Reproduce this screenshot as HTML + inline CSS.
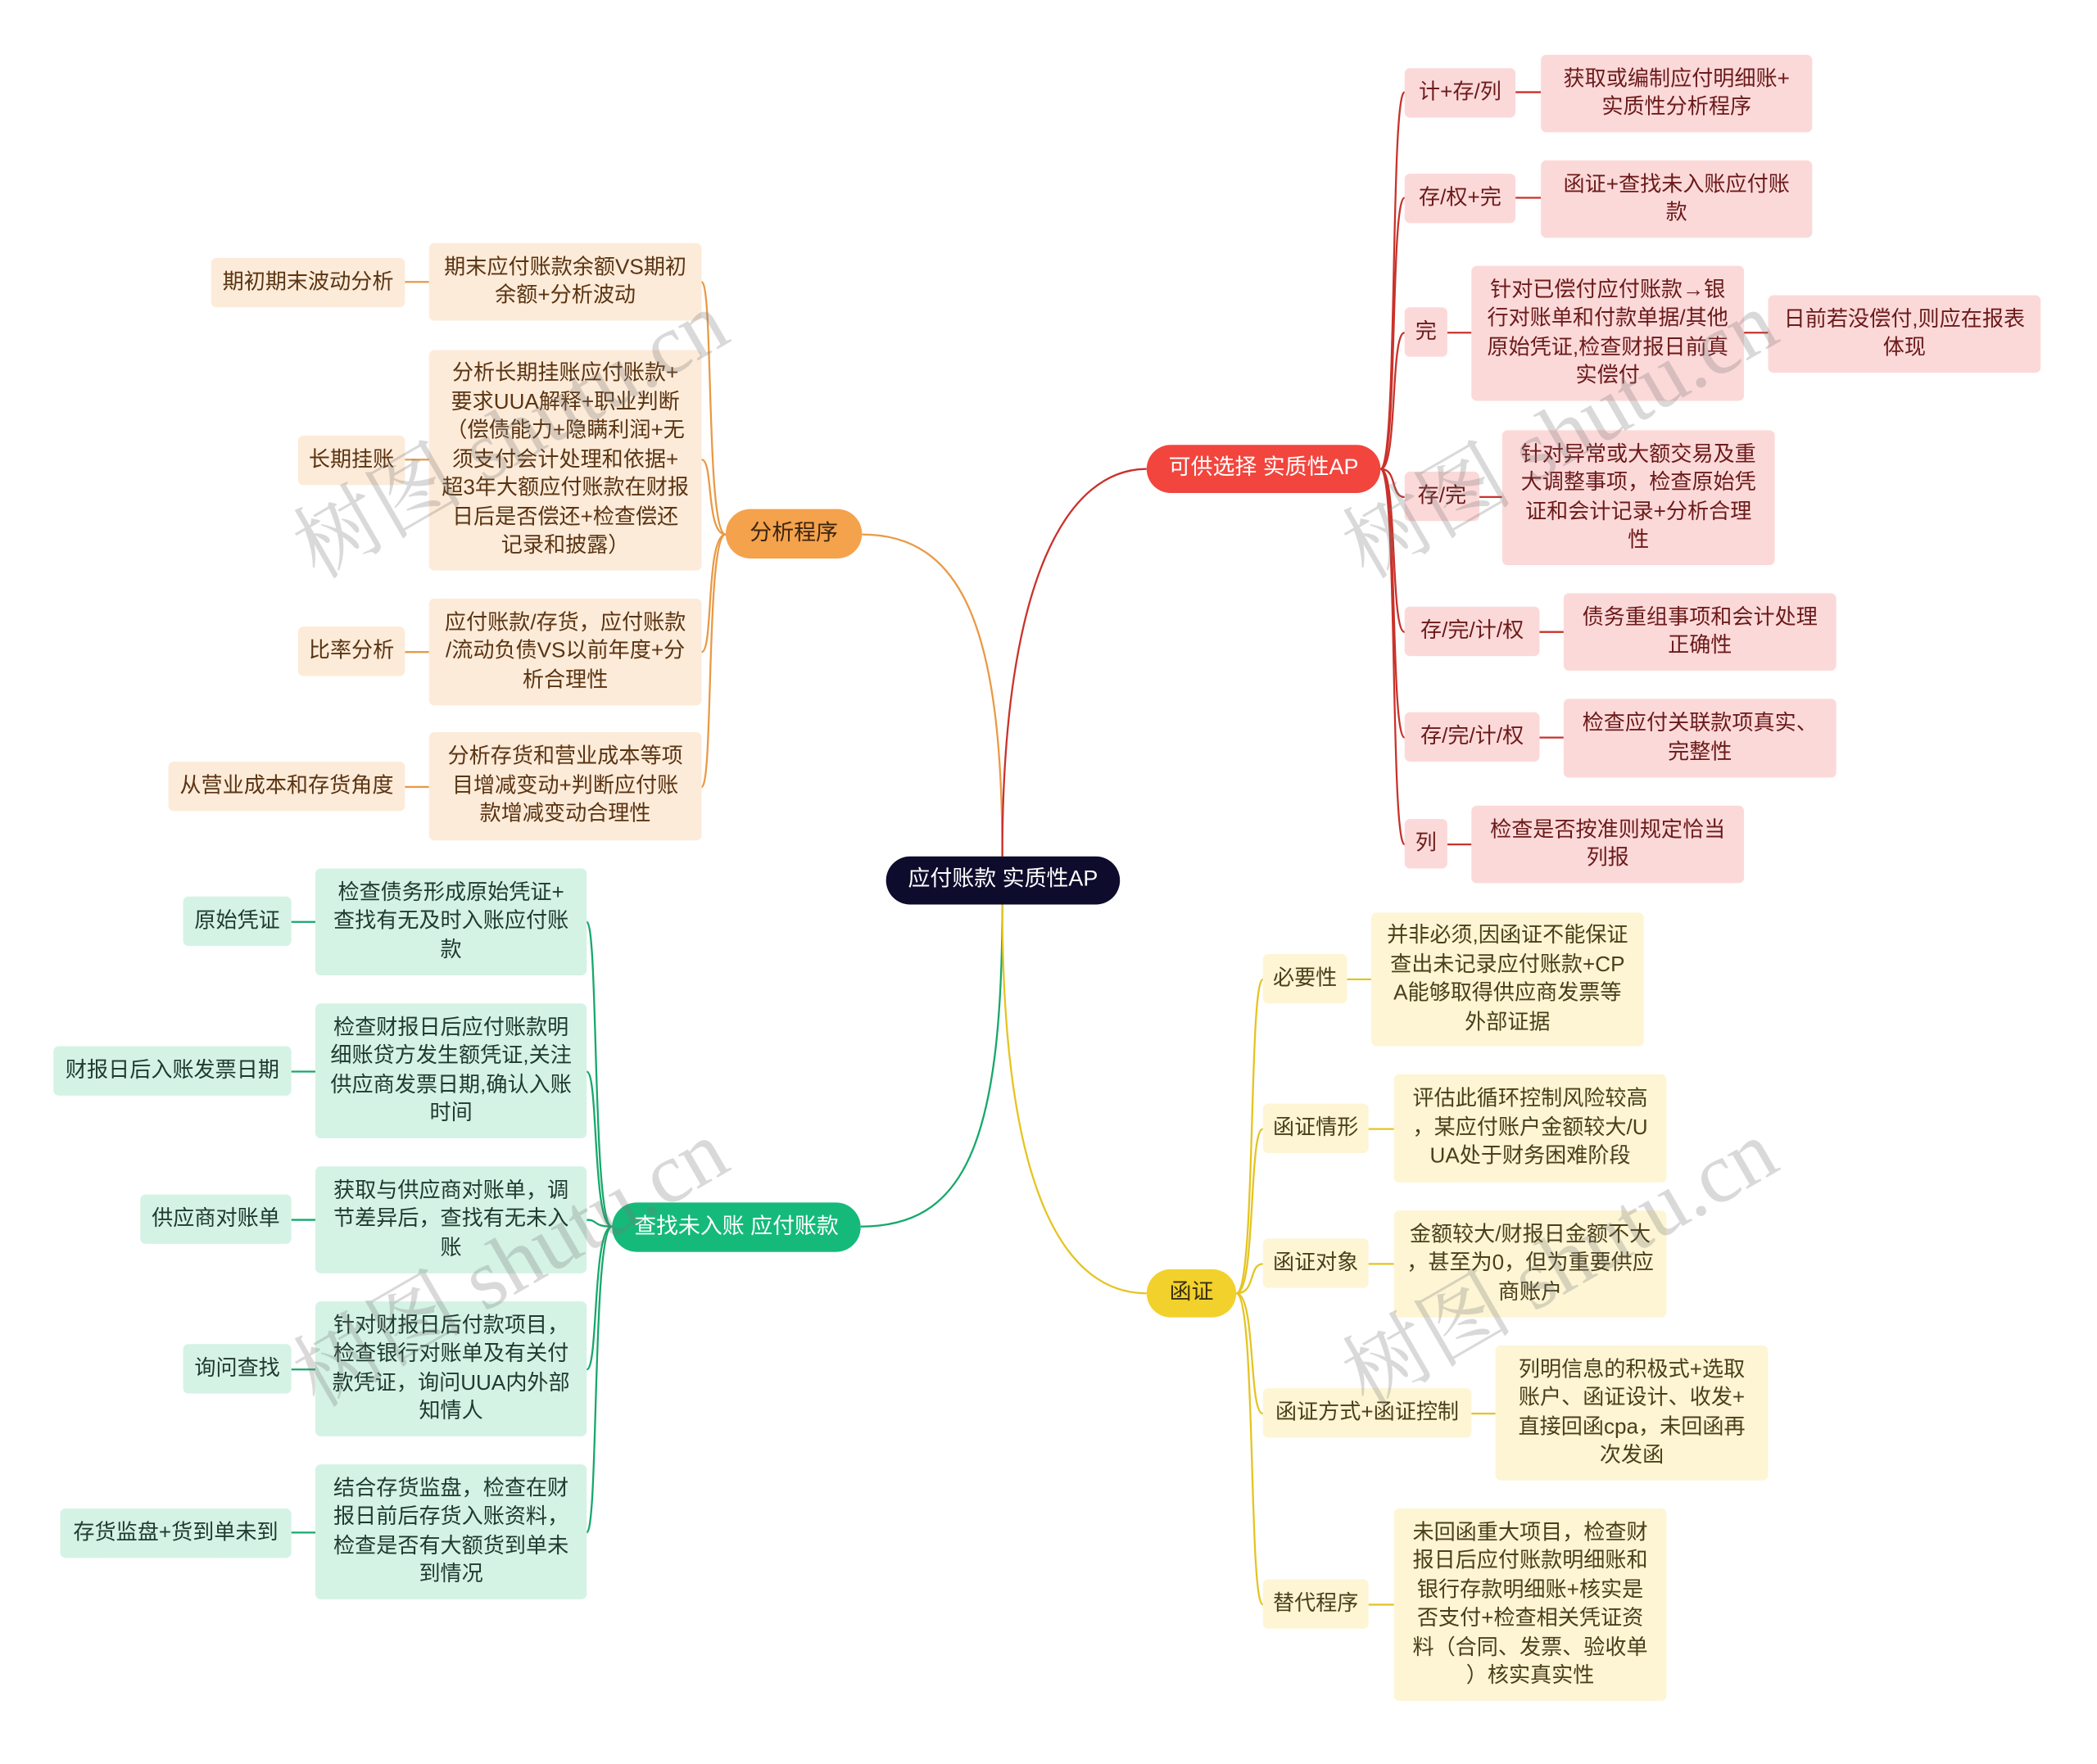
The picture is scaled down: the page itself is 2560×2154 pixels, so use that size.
<!DOCTYPE html>
<html><head><meta charset="utf-8"><style>
html,body{margin:0;padding:0;background:#fff;}
body{width:2560px;height:2147px;overflow:hidden;position:relative;}
#c{position:absolute;left:0;top:0;width:1570px;height:1320px;transform:scale(1.6315);transform-origin:0 0;font-family:"Liberation Sans","Noto Sans CJK SC",sans-serif;}
.n{position:absolute;display:flex;align-items:center;justify-content:center;text-align:center;box-sizing:border-box;font-size:16px;line-height:21.5px;color:#3a3a3a;border-radius:4px;padding:0;white-space:nowrap;}
.o{background:#fdebd9;color:#5a3412}
.r{background:#fcd9d9;color:#6b1a1a}
.y{background:#fdf5d4;color:#4a3f1a}
.g{background:#d4f3e5;color:#1f3a30}
.m{border-radius:19px;font-size:16.5px}
svg{position:absolute;left:0;top:0}
.w{position:absolute;font-family:"Liberation Serif","Noto Serif CJK SC",serif;font-size:64px;color:rgba(120,120,120,0.28);transform:rotate(-30deg);white-space:nowrap;transform-origin:center;}
</style></head><body><div id="c">
<svg width="1570" height="1320" fill="none" stroke-width="1.4">
<path d="M750 641 C750 470 720 400 645 400" stroke="#e99a45"/>
<path d="M750 641 C750 430 800 351 858 351" stroke="#c9322b"/>
<path d="M750 677 C750 860 720 918 644 918" stroke="#16a86b"/>
<path d="M750 677 C750 900 800 968 858 968" stroke="#e5c420"/>
<g stroke="#e99a45">
<path d="M543 400 C528 400 534 211 525 211"/><path d="M543 400 C528 400 534 344 525 344"/><path d="M543 400 C528 400 534 488 525 488"/><path d="M543 400 C528 400 534 589 525 589"/>
<path d="M303 211H321M303 344H321M303 488H321M303 589H321"/></g>
<g stroke="#c9322b">
<path d="M1033 351 C1046 351 1040 69 1051 69"/><path d="M1033 351 C1046 351 1040 148 1051 148"/><path d="M1033 351 C1046 351 1040 249 1051 249"/><path d="M1033 351 C1046 351 1040 372 1051 372"/><path d="M1033 351 C1046 351 1040 473 1051 473"/><path d="M1033 351 C1046 351 1040 552 1051 552"/><path d="M1033 351 C1046 351 1040 632 1051 632"/>
<path d="M1134 69H1153M1134 148H1153M1083 249H1101M1305 249H1323M1107 372H1124M1152 473H1170M1152 552H1170M1083 632H1101"/></g>
<g stroke="#e5c420">
<path d="M925 968 C940 968 934 733 945 733"/><path d="M925 968 C940 968 934 845 945 845"/><path d="M925 968 C940 968 934 946 945 946"/><path d="M925 968 C940 968 934 1058 945 1058"/><path d="M925 968 C940 968 934 1201 945 1201"/>
<path d="M1008 733H1026M1024 845H1043M1024 946H1043M1101 1058H1119M1024 1201H1043"/></g>
<g stroke="#16a86b">
<path d="M458 918 C443 918 448 690 439 690"/><path d="M458 918 C443 918 448 802 439 802"/><path d="M458 918 C443 918 448 913 439 913"/><path d="M458 918 C443 918 448 1025 439 1025"/><path d="M458 918 C443 918 448 1147 439 1147"/>
<path d="M218 690H236M218 802H236M218 913H236M218 1025H236M218 1147H236"/></g>
</svg>
<div class="n m" style="left:663px;top:641px;width:175px;height:36px;background:#0d0c2c;color:#fff">应付账款 实质性AP</div>
<div class="n m" style="left:543px;top:381px;width:102px;height:37px;background:#f4a24c;color:#3a2510">分析程序</div>
<div class="n m" style="left:858px;top:333px;width:175px;height:36px;background:#f2453d;color:#fff">可供选择 实质性AP</div>
<div class="n m" style="left:858px;top:950px;width:67px;height:36px;background:#f2d12c;color:#3a3010">函证</div>
<div class="n m" style="left:458px;top:900px;width:186px;height:37px;background:#15ba7a;color:#fff">查找未入账 应付账款</div>

<div class="n o" style="left:158px;top:193px;width:145px;height:37px">期初期末波动分析</div>
<div class="n o" style="left:321px;top:182px;width:204px;height:58px">期末应付账款余额VS期初<br>余额+分析波动</div>
<div class="n o" style="left:223px;top:326px;width:80px;height:37px">长期挂账</div>
<div class="n o" style="left:321px;top:262px;width:204px;height:165px">分析长期挂账应付账款+<br>要求UUA解释+职业判断<br>（偿债能力+隐瞒利润+无<br>须支付会计处理和依据+<br>超3年大额应付账款在财报<br>日后是否偿还+检查偿还<br>记录和披露）</div>
<div class="n o" style="left:223px;top:469px;width:80px;height:37px">比率分析</div>
<div class="n o" style="left:321px;top:448px;width:204px;height:80px">应付账款/存货，应付账款<br>/流动负债VS以前年度+分<br>析合理性</div>
<div class="n o" style="left:126px;top:570px;width:177px;height:37px">从营业成本和存货角度</div>
<div class="n o" style="left:321px;top:548px;width:204px;height:81px">分析存货和营业成本等项<br>目增减变动+判断应付账<br>款增减变动合理性</div>

<div class="n r" style="left:1051px;top:51px;width:83px;height:37px">计+存/列</div>
<div class="n r" style="left:1153px;top:41px;width:203px;height:58px">获取或编制应付明细账+<br>实质性分析程序</div>
<div class="n r" style="left:1051px;top:130px;width:83px;height:37px">存/权+完</div>
<div class="n r" style="left:1153px;top:120px;width:203px;height:58px">函证+查找未入账应付账<br>款</div>
<div class="n r" style="left:1051px;top:230px;width:32px;height:37px">完</div>
<div class="n r" style="left:1101px;top:199px;width:204px;height:101px">针对已偿付应付账款→银<br>行对账单和付款单据/其他<br>原始凭证,检查财报日前真<br>实偿付</div>
<div class="n r" style="left:1323px;top:221px;width:204px;height:58px">日前若没偿付,则应在报表<br>体现</div>
<div class="n r" style="left:1051px;top:353px;width:56px;height:37px">存/完</div>
<div class="n r" style="left:1124px;top:322px;width:204px;height:101px">针对异常或大额交易及重<br>大调整事项，检查原始凭<br>证和会计记录+分析合理<br>性</div>
<div class="n r" style="left:1051px;top:454px;width:101px;height:37px">存/完/计/权</div>
<div class="n r" style="left:1170px;top:444px;width:204px;height:58px">债务重组事项和会计处理<br>正确性</div>
<div class="n r" style="left:1051px;top:533px;width:101px;height:37px">存/完/计/权</div>
<div class="n r" style="left:1170px;top:523px;width:204px;height:59px">检查应付关联款项真实、<br>完整性</div>
<div class="n r" style="left:1051px;top:613px;width:32px;height:37px">列</div>
<div class="n r" style="left:1101px;top:603px;width:204px;height:58px">检查是否按准则规定恰当<br>列报</div>

<div class="n y" style="left:945px;top:714px;width:63px;height:37px">必要性</div>
<div class="n y" style="left:1026px;top:683px;width:204px;height:100px">并非必须,因函证不能保证<br>查出未记录应付账款+CP<br>A能够取得供应商发票等<br>外部证据</div>
<div class="n y" style="left:945px;top:826px;width:79px;height:37px">函证情形</div>
<div class="n y" style="left:1043px;top:804px;width:204px;height:81px">评估此循环控制风险较高<br>，某应付账户金额较大/U<br>UA处于财务困难阶段</div>
<div class="n y" style="left:945px;top:927px;width:79px;height:37px">函证对象</div>
<div class="n y" style="left:1043px;top:906px;width:204px;height:80px">金额较大/财报日金额不大<br>，甚至为0，但为重要供应<br>商账户</div>
<div class="n y" style="left:945px;top:1039px;width:156px;height:37px">函证方式+函证控制</div>
<div class="n y" style="left:1119px;top:1007px;width:204px;height:101px">列明信息的积极式+选取<br>账户、函证设计、收发+<br>直接回函cpa，未回函再<br>次发函</div>
<div class="n y" style="left:945px;top:1182px;width:79px;height:37px">替代程序</div>
<div class="n y" style="left:1043px;top:1129px;width:204px;height:144px">未回函重大项目，检查财<br>报日后应付账款明细账和<br>银行存款明细账+核实是<br>否支付+检查相关凭证资<br>料（合同、发票、验收单<br>）核实真实性</div>

<div class="n g" style="left:137px;top:671px;width:81px;height:37px">原始凭证</div>
<div class="n g" style="left:236px;top:650px;width:203px;height:80px">检查债务形成原始凭证+<br>查找有无及时入账应付账<br>款</div>
<div class="n g" style="left:40px;top:783px;width:178px;height:37px">财报日后入账发票日期</div>
<div class="n g" style="left:236px;top:751px;width:203px;height:101px">检查财报日后应付账款明<br>细账贷方发生额凭证,关注<br>供应商发票日期,确认入账<br>时间</div>
<div class="n g" style="left:105px;top:894px;width:113px;height:37px">供应商对账单</div>
<div class="n g" style="left:236px;top:873px;width:203px;height:80px">获取与供应商对账单，调<br>节差异后，查找有无未入<br>账</div>
<div class="n g" style="left:137px;top:1006px;width:81px;height:37px">询问查找</div>
<div class="n g" style="left:236px;top:974px;width:203px;height:101px">针对财报日后付款项目，<br>检查银行对账单及有关付<br>款凭证，询问UUA内外部<br>知情人</div>
<div class="n g" style="left:45px;top:1129px;width:173px;height:37px">存货监盘+货到单未到</div>
<div class="n g" style="left:236px;top:1096px;width:203px;height:101px">结合存货监盘，检查在财<br>报日前后存货入账资料，<br>检查是否有大额货到单未<br>到情况</div>

<div class="w" style="left:200px;top:275px">树图 shutu.cn</div>
<div class="w" style="left:985px;top:275px">树图 shutu.cn</div>
<div class="w" style="left:200px;top:895px">树图 shutu.cn</div>
<div class="w" style="left:985px;top:895px">树图 shutu.cn</div>
</div></body></html>
